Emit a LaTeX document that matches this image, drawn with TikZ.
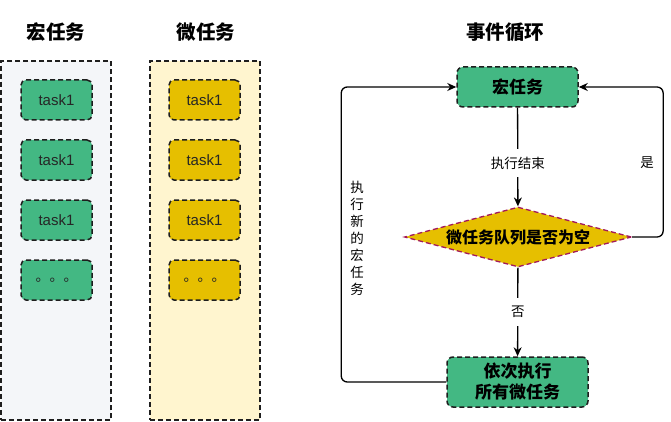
\documentclass[tikz,border=0pt]{standalone}
\usepackage{fontspec}
\setmainfont{Liberation Sans}
\newfontfamily\cjk{Noto Sans CJK SC}
\usetikzlibrary{shapes.geometric,arrows.meta}
\definecolor{tgreen}{HTML}{43B883}
\definecolor{tyellow}{HTML}{E6BF00}
\definecolor{panelgray}{HTML}{F4F6F9}
\definecolor{panelyellow}{HTML}{FFF5CF}
\definecolor{diaborder}{HTML}{A3195B}
\definecolor{bord}{HTML}{1E1E1E}
\begin{document}
\begin{tikzpicture}[x=1pt,y=-1pt,
  dashbord/.style={draw=bord, line width=1.5pt, dash pattern=on 5pt off 3pt},
  panel/.style={dashbord, minimum width=110pt, minimum height=359pt, inner sep=0pt},
  task/.style={dashbord, rounded corners=5pt, minimum width=71pt, minimum height=40pt, inner sep=0pt, text=black!85, font=\fontsize{15}{18}\selectfont},
  dots/.style={task, font=\cjk\fontsize{14}{16}\selectfont},
  title/.style={font=\cjk\bfseries\fontsize{19.5}{22}\selectfont},
  flowbox/.style={dashbord, fill=tgreen, rounded corners=6pt, inner sep=0pt, align=center, font=\cjk\bfseries\fontsize{17}{21}\selectfont},
  decision/.style={diamond, aspect=3.78, draw=diaborder, line width=1.3pt, dash pattern=on 5pt off 3pt, fill=tyellow, inner sep=0pt, minimum width=227pt, minimum height=60pt, font=\cjk\bfseries\fontsize{16}{18}\selectfont},
  arr/.style={draw=black, line width=1.3pt, -{Stealth[length=9pt,width=8pt]}},
  lbl/.style={font=\cjk\fontsize{13.5}{17}\selectfont, fill=white, inner xsep=2pt, inner ysep=8pt},
]
\useasboundingbox (0,0) rectangle (671,422);

% titles
\node[title] (t1) at (56,32) {宏任务};
\node[title] (t2) at (206,32) {微任务};
\node[title] (t3) at (505,32) {事件循环};

% panels
\node[panel, fill=panelgray] (pl) at (56,240.5) {};
\node[panel, fill=panelyellow] (pm) at (205,240.5) {};

% macro tasks
\node[task, fill=tgreen] (ma1) at (56.5,100) {task1};
\node[task, fill=tgreen] (ma2) at (56.5,160) {task1};
\node[task, fill=tgreen] (ma3) at (56.5,220) {task1};
\node[dots, fill=tgreen] (ma4) at (56.5,280) {。。。};

% micro tasks
\node[task, fill=tyellow] (mi1) at (204.5,100) {task1};
\node[task, fill=tyellow] (mi2) at (204.5,160) {task1};
\node[task, fill=tyellow] (mi3) at (204.5,220) {task1};
\node[dots, fill=tyellow] (mi4) at (204.5,280) {。。。};

% event loop
\node[flowbox, minimum width=121pt, minimum height=40pt] (top) at (517.5,87) {宏任务};
\node[decision] (dia) at (518,237) {微任务队列是否为空};
\node[flowbox, minimum width=141pt, minimum height=50pt] (bot) at (517.5,382) {依次执行\\所有微任务};

\draw[arr] (top) -- node[lbl, pos=0.56] {执行结束} (dia);
\draw[arr] (dia) -- node[lbl, pos=0.5] {否} (bot);
\draw[arr, rounded corners=6pt] (dia.east) -- ++(31,0) |- (top.east);
\draw[arr, rounded corners=6pt] (bot.west) -- ++(-105,0) |- (top.west);

\node[font=\cjk\fontsize{13.5}{17}\selectfont, align=center] (yes) at (647,163) {是};
\node[font=\cjk\fontsize{13.5}{17}\selectfont, align=center] (newtask) at (357,238) {执\\行\\新\\的\\宏\\任\\务};
\end{tikzpicture}
\end{document}
